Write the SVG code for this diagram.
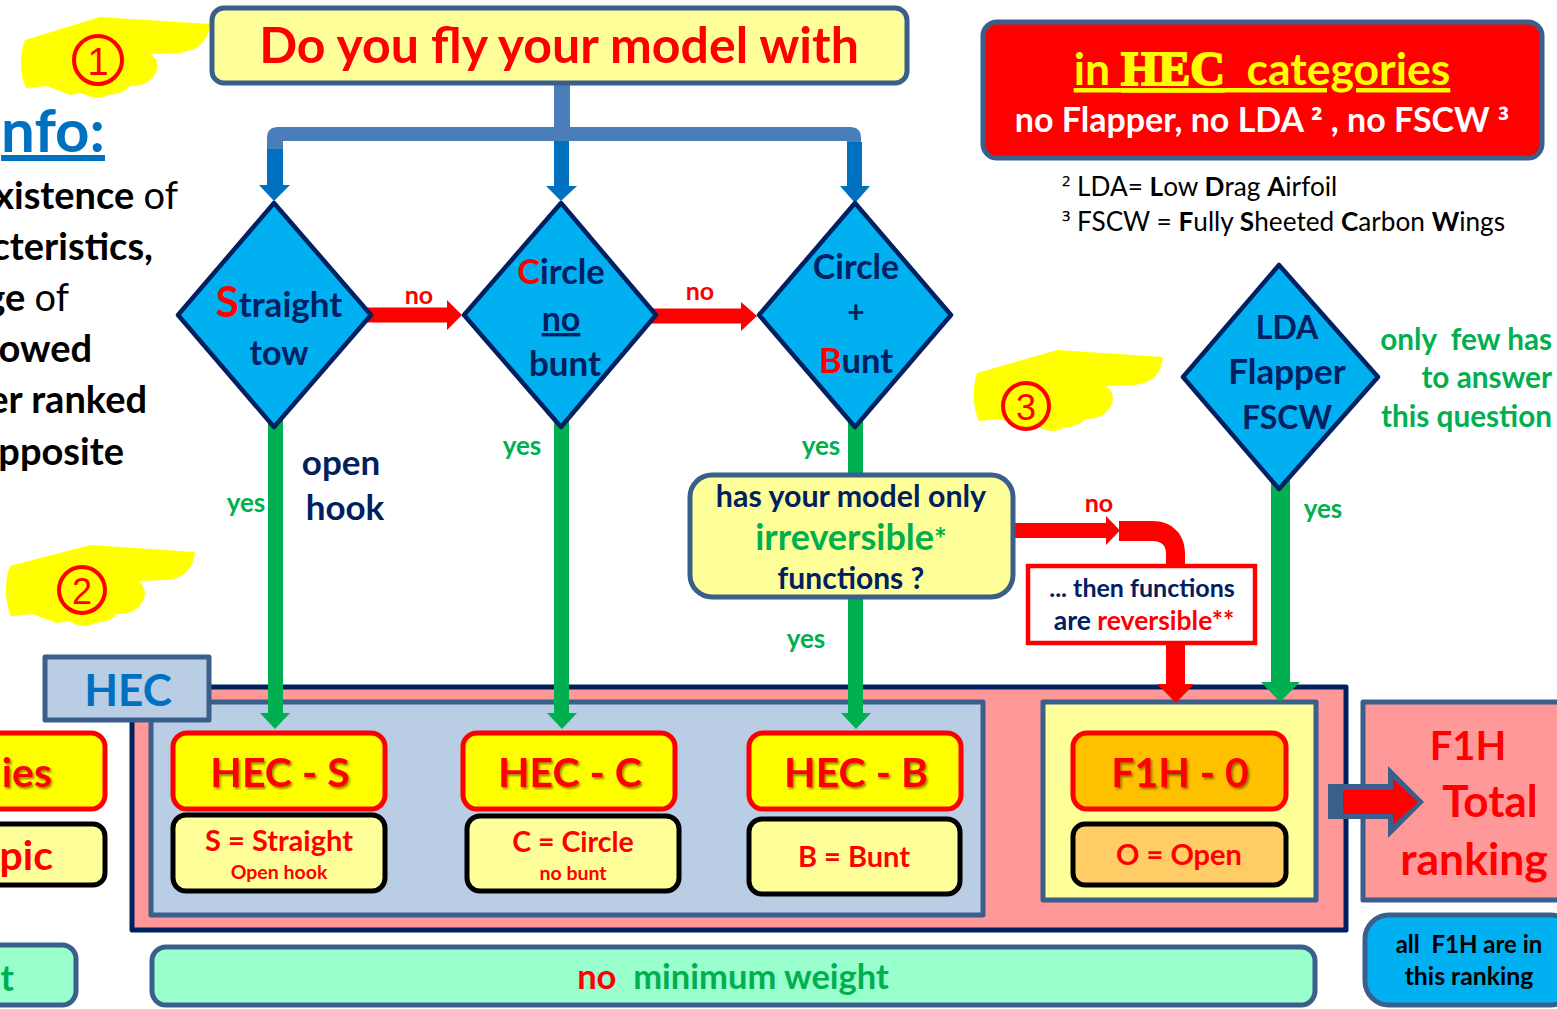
<svg xmlns="http://www.w3.org/2000/svg" width="1557" height="1009" viewBox="0 0 1557 1009">
<defs>
<style>
text{font-family:Lato,"Open Sans","Liberation Sans",sans-serif;font-weight:700;text-anchor:middle}
.r{fill:#f00}.n{fill:#002060}.g{fill:#00B050}.k{fill:#000}.w{fill:#fff}.b{fill:#0070C0}.y{fill:#ff0}
.l{text-anchor:start}.e{text-anchor:end}.t{font-weight:400}
.hd{stroke:#3A5F8B;stroke-width:5}
.dia{fill:#00B0F0;stroke:#002060;stroke-width:4.5;stroke-linejoin:round}
.pale{fill:#FFFF99}
.red5{stroke:#f00;stroke-width:5}.blk5{stroke:#000;stroke-width:5}
.hand{fill:#ff0}
.ring{fill:none;stroke:#f00;stroke-width:4}
.sh{filter:url(#ts)}
.sup{font-family:"Open Sans","Liberation Sans",sans-serif}
</style>
<filter id="ts" x="-10%" y="-10%" width="120%" height="130%"><feDropShadow dx="1.5" dy="2" stdDeviation="1.2" flood-color="#000" flood-opacity=".45"/></filter>
</defs>
<rect width="1557" height="1009" fill="#fff"/>

<g id="hand-1"><path class="hand" d="M25 40L100 17L210 24C208 40 200 50 180 53L150 54C158 58 160 68 154 76C148 84 140 86 130 86C124 93 116 94 108 95C100 100 90 98 82 93L70 95L47 86L26 88C20 75 19 55 25 40Z"/><circle class="ring" cx="98" cy="60" r="24"/><text x="98" y="75" font-size="38" class="r t" style="font-family:'Liberation Sans',sans-serif">1</text></g>
<g id="hand-2"><path class="hand" d="M10 566L90 545L195 552C193 568 186 578 166 580L138 581C146 586 147 596 141 604C135 612 127 614 117 614C111 621 103 622 95 623C87 628 77 626 69 621L57 623L32 614L11 616C5 603 4 581 10 566Z"/><circle class="ring" cx="82" cy="590" r="23"/><text x="82" y="604" font-size="36" class="r t" style="font-family:'Liberation Sans',sans-serif">2</text></g>
<g id="hand-3"><path class="hand" d="M977 373L1057 350L1163 357C1161 373 1154 383 1134 385L1106 386C1114 391 1115 401 1109 409C1103 417 1095 419 1085 419C1079 426 1071 427 1063 428C1055 433 1045 431 1037 426L1025 428L1000 419L979 421C973 408 972 388 977 373Z"/><circle class="ring" cx="1026" cy="406" r="23"/><text x="1026" y="420" font-size="36" class="r t" style="font-family:'Liberation Sans',sans-serif">3</text></g>

<g id="info-text">
<text x="105" y="152" font-size="60" class="b e" text-decoration="underline">nfo:</text>
<text x="178" y="209" font-size="38" class="k e">xistence <tspan class="t">of</tspan></text>
<text x="153" y="260" font-size="38" class="k e">cteristics,</text>
<text x="69" y="311" font-size="38" class="k e">ge <tspan class="t">of</tspan></text>
<text x="92" y="362" font-size="38" class="k e">owed</text>
<text x="147" y="413" font-size="38" class="k e">er ranked</text>
<text x="124" y="465" font-size="38" class="k e">pposite</text>
</g>

<g id="partial-boxes">
<rect x="-20" y="733" width="125" height="76" rx="14" class="red5" fill="#ff0"/>
<text x="52" y="787" font-size="41" class="r e sh">ies</text>
<rect x="-20" y="824" width="125" height="61" rx="12" class="blk5 pale"/>
<text x="53" y="870" font-size="41" class="r e">pic</text>
<rect x="-20" y="945" width="96" height="60" rx="14" class="hd" fill="#99FFCC"/>
<text x="14" y="991" font-size="36" class="g e">t</text>
</g>

<g id="hec-group">
<rect x="132" y="687" width="1214" height="243" fill="#FF9999" stroke="#002060" stroke-width="5" stroke-linejoin="round"/>
<rect x="151" y="702" width="832" height="213" fill="#B9CDE5" class="hd" stroke-linejoin="round"/>
<rect x="1043" y="702" width="273" height="198" class="hd pale" stroke-linejoin="round"/>
</g>

<g id="connectors">
<rect x="554" y="140" width="15" height="46" fill="#0070C0"/>
<path d="M267 149H283V185H290L274 201L259 185H267Z" fill="#0070C0"/>
<path d="M554 186H546L561 201L577 186H569Z" fill="#0070C0"/>
<path d="M847 142H862V186H870L855 203L840 186H847Z" fill="#0070C0"/>
<path d="M554 84H570V130H554Z" fill="#4A7EBB"/>
<path d="M267 149V138Q267 127 278 127H850Q861 127 861 138V142H847Q847 141 846 141H283V149Z" fill="#4A7EBB"/>
<path d="M360 307.500H447V300L462 315L447 330V322.500H360Z" fill="#f00"/>
<path d="M645 308.500H741V302L757 316L741 331V323.500H645Z" fill="#f00"/>
<path d="M268 420H283V713H290L275 729L260 713H268Z" fill="#00B050"/>
<path d="M554 420H569V713H577L562 729L547 713H554Z" fill="#00B050"/>
<path d="M848 420H863V713H871L856 729L841 713H848Z" fill="#00B050"/>
<path d="M1271 480H1290V682H1300L1280 702L1261 682H1271Z" fill="#00B050"/>
<path d="M1012 523H1106V516L1120 530.500L1106 545V538H1012Z" fill="#f00"/>
<path d="M1119 521H1152C1172 521 1185 534 1185 553V566H1166V553C1166 545 1161 541 1152 541H1119Z" fill="#f00"/>
<path d="M1166 644H1185V684H1194L1176 703L1157 684H1166Z" fill="#f00"/>
</g>

<g id="question"><rect x="212" y="8" width="695" height="75" rx="12" class="hd pale"/><text x="559" y="63" font-size="50" class="r">Do you fly your model with</text></g>

<g id="hec-note"><rect x="983" y="22" width="559" height="136" rx="14" fill="#f00" class="hd"/>
<text x="1262" y="85" font-size="44.500" class="y" text-decoration="underline">in <tspan style="font-family:'Liberation Serif',serif;font-weight:700;stroke:#ff0;stroke-width:2px" font-size="48">HEC</tspan>&#160; categories</text>
<text x="1262" y="132" font-size="34" class="w">no Flapper, no LDA <tspan class="sup" font-size="30">²</tspan> , no FSCW <tspan class="sup" font-size="30">³</tspan></text></g>

<g id="footnotes">
<text x="1062" y="196" font-size="26.200" class="k l t"><tspan class="sup" font-size="24">²</tspan> LDA= <tspan font-weight="700">L</tspan>ow <tspan font-weight="700">D</tspan>rag <tspan font-weight="700">A</tspan>irfoil</text>
<text x="1062" y="231" font-size="26.200" class="k l t"><tspan class="sup" font-size="24">³</tspan> FSCW = <tspan font-weight="700">F</tspan>ully <tspan font-weight="700">S</tspan>heeted <tspan font-weight="700">C</tspan>arbon <tspan font-weight="700">W</tspan>ings</text>
</g>

<g id="d-straight"><path class="dia" d="M274 203L371 315L274 427L178 315Z"/>
<text x="279" y="317" font-size="35" class="n"><tspan class="r" font-size="42">S</tspan>traight</text><text x="279" y="365" font-size="34" class="n">tow</text></g>
<g id="d-circle"><path class="dia" d="M561 203L656 315L561 427L464 315Z"/>
<text x="561" y="284" font-size="34.500" class="n"><tspan class="r">C</tspan>ircle</text><text x="561" y="331" font-size="34" class="n" text-decoration="underline">no</text><text x="565" y="376" font-size="35" class="n">bunt</text></g>
<g id="d-bunt"><path class="dia" d="M855 203L951 315L855 427L759 315Z"/>
<text x="856" y="279" font-size="34" class="n">Circle</text><text x="856" y="323" font-size="30" class="n">+</text><text x="856" y="373" font-size="34.500" class="n"><tspan class="r">B</tspan>unt</text></g>
<g id="d-lda"><path class="dia" d="M1279 265L1378 377L1279 489L1183 377Z"/>
<text x="1287" y="339" font-size="32" class="n">LDA</text><text x="1287" y="384" font-size="35" class="n">Flapper</text><text x="1287" y="429" font-size="32" class="n">FSCW</text></g>

<g id="q-irreversible"><rect x="690" y="475" width="323" height="122" rx="22" class="hd pale"/>
<text x="851" y="507" font-size="30.400" class="n">has your model only</text>
<text x="851" y="550" font-size="36" class="g">irreversible<tspan font-size="30">*</tspan></text>
<text x="851" y="589" font-size="30" class="n">functions ?</text></g>

<g id="then-box"><rect x="1028" y="566" width="227" height="77" fill="#fff" stroke="#f00" stroke-width="4.500"/>
<text x="1142" y="597" font-size="25" class="n">... then functions</text>
<text x="1144" y="630" font-size="26.500" class="n">are <tspan class="r">reversible**</tspan></text></g>

<g id="edge-labels">
<text x="419" y="304" font-size="25" class="r">no</text>
<text x="700" y="300" font-size="25" class="r">no</text>
<text x="1099" y="512" font-size="25" class="r">no</text>
<text x="246" y="512" font-size="26" class="g">yes</text>
<text x="522" y="455" font-size="26" class="g">yes</text>
<text x="821" y="455" font-size="26" class="g">yes</text>
<text x="806" y="648" font-size="26" class="g">yes</text>
<text x="1323" y="518" font-size="26" class="g">yes</text>
<text x="341" y="475" font-size="35" class="n">open</text>
<text x="345" y="520" font-size="35" class="n">hook</text>
<text x="1552" y="350" font-size="29.700" class="g e">only&#160; few has</text>
<text x="1552" y="388" font-size="29.700" class="g e">to answer</text>
<text x="1552" y="427" font-size="29.700" class="g e">this question</text>
</g>

<g id="hec-label"><rect x="45" y="657" width="164" height="63" fill="#B9CDE5" class="hd" stroke-linejoin="round"/><text x="128" y="706" font-size="44" class="b">HEC</text></g>

<g id="hec-s"><rect x="173" y="733" width="212" height="76" rx="14" fill="#ff0" class="red5"/><text x="280" y="787" font-size="41" class="r sh">HEC - S</text>
<rect x="173" y="815" width="212" height="76" rx="13" class="blk5 pale"/><text x="279" y="851" font-size="29" class="r">S = Straight</text><text x="279" y="879" font-size="19.500" class="r">Open hook</text></g>
<g id="hec-c"><rect x="463" y="733" width="212" height="76" rx="14" fill="#ff0" class="red5"/><text x="570" y="787" font-size="41" class="r sh">HEC - C</text>
<rect x="467" y="816" width="212" height="75" rx="13" class="blk5 pale"/><text x="573" y="852" font-size="28.500" class="r">C = Circle</text><text x="573" y="880" font-size="19.500" class="r">no bunt</text></g>
<g id="hec-b"><rect x="749" y="733" width="212" height="76" rx="14" fill="#ff0" class="red5"/><text x="856" y="787" font-size="41" class="r sh">HEC - B</text>
<rect x="749" y="819" width="211" height="75" rx="13" class="blk5 pale"/><text x="854" y="867" font-size="29" class="r">B = Bunt</text></g>
<g id="f1h-0"><rect x="1073" y="733" width="213" height="76" rx="14" fill="#FFC000" class="red5"/><text x="1180" y="787" font-size="41" class="r sh">F1H - 0</text>
<rect x="1073" y="824" width="213" height="61" rx="12" fill="#FFCC66" class="blk5"/><text x="1179" y="865" font-size="29" class="r">O = Open</text></g>

<g id="f1h-total"><rect x="1363" y="702" width="210" height="198" fill="#FF9999" class="hd" stroke-linejoin="round"/>
<text x="1468" y="760" font-size="40" class="r">F1H</text><text x="1490" y="817" font-size="44" class="r">Total</text><text x="1474" y="875" font-size="44.500" class="r">ranking</text></g>
<g id="f1h-note"><rect x="1365" y="915" width="210" height="90" rx="24" fill="#00B0F0" class="hd"/>
<text x="1469" y="953" font-size="24" class="k">all&#160; F1H are in</text><text x="1469" y="985" font-size="24.800" class="k">this ranking</text></g>
<g id="min-weight"><rect x="152" y="947" width="1163" height="58" rx="14" fill="#99FFCC" class="hd"/><text x="733" y="989" font-size="34.500" class="g"><tspan class="r">no</tspan>&#160; minimum weight</text></g>

<g id="block-arrow">
<path d="M1328 784H1388V766L1424 802L1388 838V819H1328Z" fill="#3A5F8B"/>
<path d="M1343 790H1393V779L1418 802L1393 825V814H1343Z" fill="#f00"/>
</g>
</svg>
